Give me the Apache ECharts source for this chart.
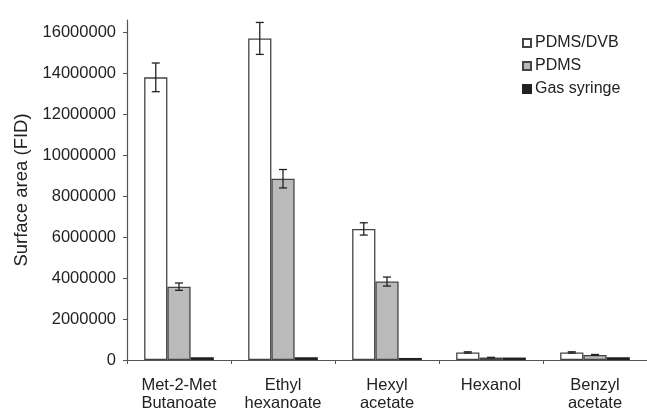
<!DOCTYPE html>
<html>
<head>
<meta charset="utf-8">
<script src="https://cdn.jsdelivr.net/npm/echarts@6/dist/echarts.min.js"></script>
<style>
  html, body { margin: 0; padding: 0; background: #fff; }
  #chart { width: 647px; height: 412px; }
</style>
</head>
<body>
<div id="chart"></div>
<script>
// Compounds measured
const categories = ['Met-2-Met\nButanoate', 'Ethyl\nhexanoate', 'Hexyl\nacetate', 'Hexanol', 'Benzyl\nacetate'];

// Peak surface areas (FID) per extraction method, with standard deviations
const pdmsDvb = [13800000, 15700000, 6400000, 370000, 370000];
const pdmsDvbErr = [700000, 780000, 300000, 30000, 30000];
const pdms = [3580000, 8850000, 3830000, 120000, 250000];
const pdmsErr = [180000, 450000, 220000, 10000, 20000];
const gasSyringe = [130000, 130000, 100000, 120000, 130000];

const yTicks = [0, 2000000, 4000000, 6000000, 8000000, 10000000, 12000000, 14000000, 16000000];

const FONT = 'Liberation Sans, Arial, Helvetica, sans-serif';
const TEXT = '#222';
const EDGE = '#444';
const CAT_GAP = 0.33;

const chart = echarts.init(document.getElementById('chart'));

// Error bar drawn on top of bar number `idx` (of 3) in each category
function errorSeries(values, errors, idx) {
  const data = values.map((v, i) => [i, v, errors[i]]);
  return {
    type: 'custom',
    silent: true,
    z: 5,
    data: data,
    renderItem: function (params, api) {
      const c = api.value(0), v = api.value(1), e = api.value(2);
      const band = api.size([1, 0])[0];
      const bw = band * (1 - CAT_GAP) / 3;
      const top = api.coord([c, v + e]);
      const bot = api.coord([c, v - e]);
      const x = top[0] + (idx - 1) * bw;
      const cap = 4;
      const style = { stroke: '#222', lineWidth: 1.3, fill: null };
      return {
        type: 'group',
        children: [
          { type: 'line', shape: { x1: x, y1: top[1], x2: x, y2: bot[1] }, style: style },
          { type: 'line', shape: { x1: x - cap, y1: top[1], x2: x + cap, y2: top[1] }, style: style },
          { type: 'line', shape: { x1: x - cap, y1: bot[1], x2: x + cap, y2: bot[1] }, style: style }
        ]
      };
    }
  };
}

chart.setOption({
  animation: false,
  backgroundColor: '#fff',
  textStyle: { fontFamily: FONT, color: TEXT },
  grid: { left: 127, top: 20, width: 525, bottom: 52 },
  legend: {
    orient: 'vertical',
    left: 522,
    top: 35,
    padding: 0,
    itemWidth: 8,
    itemHeight: 8,
    itemGap: 7,
    icon: 'rect',
    textStyle: { fontFamily: FONT, fontSize: 16, color: TEXT, padding: [0, 0, 0, -1] },
    data: ['PDMS/DVB', 'PDMS', 'Gas syringe']
  },
  xAxis: {
    type: 'category',
    data: categories,
    axisLine: { lineStyle: { color: '#555', width: 1.2 } },
    axisTick: { show: true, length: 4, lineStyle: { color: '#555' } },
    axisLabel: { color: TEXT, fontFamily: FONT, fontSize: 16.5, lineHeight: 18, margin: 16, interval: 0 }
  },
  yAxis: {
    type: 'value',
    min: 0,
    max: 16600000,
    interval: 2000000,
    name: 'Surface area (FID)',
    nameLocation: 'middle',
    nameGap: 96,
    nameTextStyle: { fontFamily: FONT, fontSize: 18.5, color: TEXT },
    splitLine: { show: false },
    axisLine: { show: true, lineStyle: { color: '#555', width: 1.2 } },
    axisTick: { show: true, length: 4, lineStyle: { color: '#555' } },
    axisLabel: {
      color: TEXT, fontFamily: FONT, fontSize: 16.5, margin: 11,
      showMaxLabel: false,
      formatter: function (v) { return yTicks.indexOf(v) >= 0 ? String(v) : ''; }
    }
  },
  series: [
    {
      name: 'PDMS/DVB', type: 'bar', data: pdmsDvb,
      barGap: '0%', barCategoryGap: (CAT_GAP * 100) + '%',
      itemStyle: { color: '#ffffff', borderColor: EDGE, borderWidth: 1.3 }
    },
    {
      name: 'PDMS', type: 'bar', data: pdms,
      itemStyle: { color: '#bababa', borderColor: EDGE, borderWidth: 1.3 }
    },
    {
      name: 'Gas syringe', type: 'bar', data: gasSyringe,
      itemStyle: { color: '#222222', borderColor: '#222', borderWidth: 1.3 }
    },
    errorSeries(pdmsDvb, pdmsDvbErr, 0),
    errorSeries(pdms, pdmsErr, 1)
  ]
});
</script>
</body>
</html>
